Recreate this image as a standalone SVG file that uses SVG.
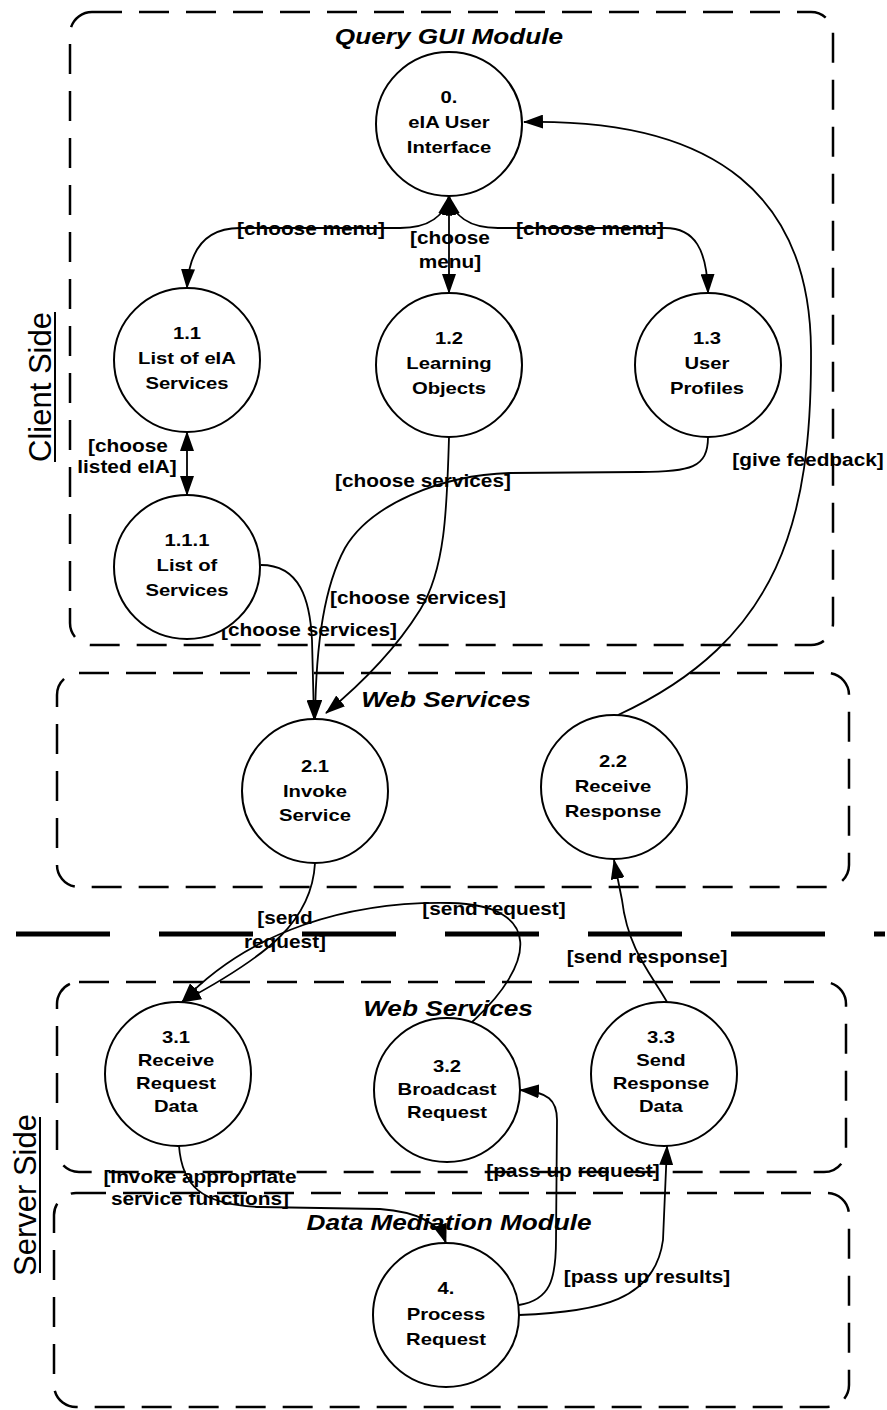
<svg xmlns="http://www.w3.org/2000/svg" width="887" height="1410" viewBox="0 0 887 1410">
  <defs>
    <style>
      .box { fill: none; stroke: #000; stroke-width: 2.5; stroke-dasharray: 30 17; }
      .sep { fill: none; stroke: #000; stroke-width: 5; stroke-dasharray: 94 49; }
      .node ellipse { fill: #fff; stroke: #000; stroke-width: 2; }
      .conn path { fill: none; stroke: #000; stroke-width: 1.8; }
      .wide { transform-box: fill-box; transform-origin: center; transform: scaleX(1.19); }
      .nt { font-family: "Liberation Sans", Arial, sans-serif; font-weight: bold; font-size: 17px; text-anchor: middle; fill: #000; }
      .lbl { font-family: "Liberation Sans", Arial, sans-serif; font-weight: bold; font-size: 17.5px; text-anchor: middle; fill: #000; }
      .ttl { font-family: "Liberation Sans", Arial, sans-serif; font-weight: bold; font-style: italic; font-size: 22px; text-anchor: middle; fill: #000; }
      .side { font-family: "Liberation Sans", Arial, sans-serif; font-size: 31px; text-anchor: middle; fill: #000; }
    </style>
    <marker id="arr" viewBox="0 0 20 14" markerUnits="userSpaceOnUse" markerWidth="20" markerHeight="14" refX="19" refY="7" orient="auto-start-reverse">
      <path d="M0,0 L20,7 L0,14 Z" fill="#000"/>
    </marker>
  </defs>

  <!-- grouping boxes -->
  <g id="containers">
    <rect class="box" x="70" y="12" width="763" height="633" rx="22"/>
    <text class="ttl wide" x="449" y="44">Query GUI Module</text>
    <rect class="box" x="57" y="673" width="792" height="214" rx="22"/>
    <text class="ttl wide" x="446" y="707">Web Services</text>
    <rect class="box" x="57" y="982" width="789" height="190" rx="22"/>
    <text class="ttl wide" x="448" y="1016">Web Services</text>
    <rect class="box" x="54" y="1193" width="795" height="214" rx="22"/>
    <text class="ttl wide" x="449" y="1230">Data Mediation Module</text>
  </g>

  <!-- client / server split -->
  <g id="sides">
    <line class="sep" x1="16" y1="934" x2="885" y2="934"/>
    <text class="side" x="51" y="387" transform="rotate(-90 51 387)">Client Side</text>
    <line x1="55" y1="312" x2="55" y2="462" stroke="#000" stroke-width="2"/>
    <text class="side" x="36" y="1195" transform="rotate(-90 36 1195)">Server Side</text>
    <line x1="40" y1="1117" x2="40" y2="1273" stroke="#000" stroke-width="2"/>
  </g>

  <!-- connector labels -->
  <g id="labels">
    <text class="lbl wide" x="311" y="235">[choose menu]</text>
    <text class="lbl wide" x="450" y="244">[choose</text>
    <text class="lbl wide" x="450" y="268">menu]</text>
    <text class="lbl wide" x="590" y="235">[choose menu]</text>
    <text class="lbl wide" x="128" y="452">[choose</text>
    <text class="lbl wide" x="127" y="473">listed eIA]</text>
    <text class="lbl wide" x="423" y="487">[choose services]</text>
    <text class="lbl wide" x="808" y="466">[give feedback]</text>
    <text class="lbl wide" x="418" y="604">[choose services]</text>
    <text class="lbl wide" x="309" y="636">[choose services]</text>
    <text class="lbl wide" x="285" y="924">[send</text>
    <text class="lbl wide" x="285" y="948">request]</text>
    <text class="lbl wide" x="494" y="915">[send request]</text>
    <text class="lbl wide" x="647" y="963">[send response]</text>
    <text class="lbl wide" x="200" y="1183">[invoke appropriate</text>
    <text class="lbl wide" x="200" y="1205">service functions]</text>
    <text class="lbl wide" x="573" y="1177">[pass up request]</text>
    <text class="lbl wide" x="647" y="1283">[pass up results]</text>
  </g>

  <!-- processes -->
  <g id="n0" class="node">
    <ellipse cx="449" cy="124" rx="73" ry="72"/>
    <text class="nt wide" x="449" y="103">0.</text>
    <text class="nt wide" x="449" y="128">eIA User</text>
    <text class="nt wide" x="449" y="153">Interface</text>
  </g>
  <g id="n1-1" class="node">
    <ellipse cx="187" cy="360" rx="73" ry="72"/>
    <text class="nt wide" x="187" y="339">1.1</text>
    <text class="nt wide" x="187" y="364">List of eIA</text>
    <text class="nt wide" x="187" y="389">Services</text>
  </g>
  <g id="n1-2" class="node">
    <ellipse cx="449" cy="365" rx="73" ry="72"/>
    <text class="nt wide" x="449" y="344">1.2</text>
    <text class="nt wide" x="449" y="369">Learning</text>
    <text class="nt wide" x="449" y="394">Objects</text>
  </g>
  <g id="n1-3" class="node">
    <ellipse cx="708" cy="365" rx="73" ry="72"/>
    <text class="nt wide" x="707" y="344">1.3</text>
    <text class="nt wide" x="707" y="369">User</text>
    <text class="nt wide" x="707" y="394">Profiles</text>
  </g>
  <g id="n1-1-1" class="node">
    <ellipse cx="187" cy="567" rx="73" ry="72"/>
    <text class="nt wide" x="187" y="546">1.1.1</text>
    <text class="nt wide" x="187" y="571">List of</text>
    <text class="nt wide" x="187" y="596">Services</text>
  </g>
  <g id="n2-1" class="node">
    <ellipse cx="315" cy="791" rx="73" ry="72"/>
    <text class="nt wide" x="315" y="772">2.1</text>
    <text class="nt wide" x="315" y="797">Invoke</text>
    <text class="nt wide" x="315" y="821">Service</text>
  </g>
  <g id="n2-2" class="node">
    <ellipse cx="614" cy="787" rx="73" ry="72"/>
    <text class="nt wide" x="613" y="767">2.2</text>
    <text class="nt wide" x="613" y="792">Receive</text>
    <text class="nt wide" x="613" y="817">Response</text>
  </g>
  <g id="n3-1" class="node">
    <ellipse cx="178" cy="1074" rx="73" ry="72"/>
    <text class="nt wide" x="176" y="1043">3.1</text>
    <text class="nt wide" x="176" y="1066">Receive</text>
    <text class="nt wide" x="176" y="1089">Request</text>
    <text class="nt wide" x="176" y="1112">Data</text>
  </g>
  <g id="n3-2" class="node">
    <ellipse cx="447" cy="1090" rx="73" ry="72"/>
    <text class="nt wide" x="447" y="1072">3.2</text>
    <text class="nt wide" x="447" y="1095">Broadcast</text>
    <text class="nt wide" x="447" y="1118">Request</text>
  </g>
  <g id="n3-3" class="node">
    <ellipse cx="664" cy="1074" rx="73" ry="72"/>
    <text class="nt wide" x="661" y="1043">3.3</text>
    <text class="nt wide" x="661" y="1066">Send</text>
    <text class="nt wide" x="661" y="1089">Response</text>
    <text class="nt wide" x="661" y="1112">Data</text>
  </g>
  <g id="n4" class="node">
    <ellipse cx="446" cy="1315" rx="73" ry="72"/>
    <text class="nt wide" x="446" y="1294">4.</text>
    <text class="nt wide" x="446" y="1320">Process</text>
    <text class="nt wide" x="446" y="1345">Request</text>
  </g>

  <!-- data flows -->
  <g id="connectors" class="conn">
    <path d="M449,196 C445,215 430,228 400,228 L240,228 C205,228 189,250 187,288" marker-start="url(#arr)" marker-end="url(#arr)"/>
    <path d="M449,196 L449,293" marker-start="url(#arr)" marker-end="url(#arr)"/>
    <path d="M449,196 C453,215 468,228 498,228 L665,228 C695,228 707,250 708,293" marker-start="url(#arr)" marker-end="url(#arr)"/>
    <path d="M187,432 L187,495" marker-start="url(#arr)" marker-end="url(#arr)"/>
    <path d="M261,565 C300,565 310,600 312,640 L314,719" marker-end="url(#arr)"/>
    <path d="M449,437 C447,510 445,570 420,610 C395,650 360,685 326,713" marker-end="url(#arr)"/>
    <path d="M708,437 C708,468 690,472 640,472 L510,473 C440,475 370,505 345,548 C325,585 316,640 315,719" marker-end="url(#arr)"/>
    <path d="M618,715 C780,640 812,520 811,350 C810,200 720,118 524,122" marker-end="url(#arr)"/>
    <path d="M315,863 C312,920 270,955 182,1002" marker-end="url(#arr)"/>
    <path d="M472,1022 C535,965 545,905 450,903 C350,901 250,930 182,1002" marker-end="url(#arr)"/>
    <path d="M667,1002 C652,975 628,950 622,900 L614,860" marker-end="url(#arr)"/>
    <path d="M179,1146 C182,1185 200,1205 260,1207 L380,1209 C420,1212 440,1225 446,1243" marker-end="url(#arr)"/>
    <path d="M519,1305 C550,1300 556,1280 556,1240 L557,1120 C557,1100 548,1092 520,1090" marker-end="url(#arr)"/>
    <path d="M519,1315 C600,1312 655,1300 663,1240 L667,1146" marker-end="url(#arr)"/>
  </g>
</svg>
